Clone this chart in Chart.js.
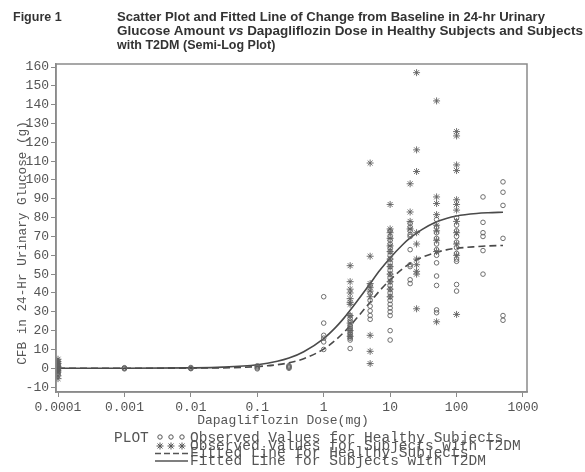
<!DOCTYPE html>
<html lang="en">
<head>
    <meta charset="UTF-8">
    <title>Figure 1 - Dapagliflozin dose response</title>
    <style>
        body { margin: 0; background: #fff; }
        .chart-container { position: relative; width: 585px; height: 472px; }
    </style>
</head>
<body>
    <div class="chart-container">
        <canvas id="doseChart"></canvas>
    </div>

    <script src="https://cdn.jsdelivr.net/npm/chart.js"></script>
    <script>
        // doses (mg); placebo is plotted at 0.0001
        const healthyDoses = [0.0001, 0.001, 0.01, 0.1, 0.3, 1, 2.5, 5, 10, 20, 50, 100, 250, 500];
        const healthyValues = [
            [-3.5, -2.5, -1.5, -1, -0.5, 0, 0, 0.5, 1, 1.5, 2, 3, 4],
            [0, 0.3, -0.3],
            [0, 0.4, -0.2],
            [0.2, 0.8, 1.3, -0.3],
            [0, 0.5, 0.9, 1.4],
            [38, 24, 17.5, 16, 14, 10],
            [28, 26.5, 25, 23, 22, 21, 20, 19, 18, 17, 16, 15, 10.5],
            [44, 40, 36, 33, 30.5, 28, 26],
            [73, 70, 68, 66, 64, 62, 60, 58, 56, 54, 52, 50, 48, 46, 44, 42, 40, 38, 36, 34, 32, 30, 28, 20, 15],
            [77, 75, 73, 71, 70, 63, 55, 54, 47, 45],
            [79, 75, 72, 69, 66, 63, 60, 56, 49, 44, 31, 29.5],
            [80, 76, 73, 70, 67, 64, 61, 58, 56.8, 44.5, 41],
            [91, 77.5, 72, 70, 62.5, 50],
            [99, 93.5, 86.5, 69, 28, 25.5]
        ];
        const t2dmDoses = [0.0001, 2.5, 5, 10, 20, 25, 50, 100];
        const t2dmValues = [
            [-5.5, -4, -2, -1, 0, 1, 2.5, 3.5, 4.8],
            [54.5, 46, 42, 40, 37, 35, 34, 28, 24, 20, 17],
            [109, 59.5, 45, 43, 41, 38, 17.5, 9, 2.5],
            [87, 74, 72, 69, 65, 62, 58, 54, 50, 46, 42, 38],
            [98, 83, 78, 74],
            [157, 116, 104.5, 72, 66, 58, 55, 51.5, 50, 31.6],
            [142, 91, 87.5, 81.6, 76, 73, 68, 62, 24.7],
            [125.7, 123.4, 108, 105, 89.5, 87, 84, 78, 72, 66, 60, 28.6]
        ];

        // fitted lines
        const fitDoses = [0.0001, 0.001, 0.01, 0.03, 0.1, 0.2, 0.3, 0.5, 1, 1.5, 2, 2.5, 3.5, 5, 7, 10, 15, 20, 30, 50, 70, 100, 200, 300, 500];
        const healthyFit = [0, 0, 0.1, 0.2, 0.9, 1.9, 2.9, 5.1, 10.2, 14.9, 19, 22.6, 28.6, 35.1, 41.3, 47, 52.5, 55.7, 58.9, 61.6, 62.9, 63.7, 64.6, 65, 65.2];
        const t2dmFit = [0, 0, 0.2, 0.6, 1.9, 3.7, 5.4, 8.8, 15.8, 21.6, 26.5, 30.8, 37.6, 45, 52, 58.6, 65.2, 69.2, 73.6, 77.8, 79.6, 80.9, 82.2, 82.6, 82.9];

        const xTickValues = [0.0001, 0.001, 0.01, 0.1, 1, 10, 100, 1000];
        const xTickLabels = ['0.0001', '0.001', '0.01', '0.1', '1', '10', '100', '1000'];
        const yTickValues = [-10, 0, 10, 20, 30, 40, 50, 60, 70, 80, 90, 100, 110, 120, 130, 140, 150, 160];

        const titleLead = 'Figure 1';
        const titleLines = [
            ['Scatter Plot and Fitted Line of Change from Baseline in 24-hr Urinary'],
            ['Glucose Amount ', 'vs', ' Dapagliflozin Dose in Healthy Subjects and Subjects'],
            ['with T2DM (Semi-Log Plot)']
        ];
        const xTitle = 'Dapagliflozin Dose(mg)';
        const yTitle = 'CFB in 24-Hr Urinary Glucose (g)';
        const legendHead = 'PLOT';
        const legendItems = [
            'Observed Values for Healthy Subjects',
            'Observed Values for Subjects with T2DM',
            'Fitted Line for Healthy Subjects',
            'Fitted Line for Subjects with T2DM'
        ];

        function toPoints(doses, values) {
            const pts = [];
            doses.forEach((d, i) => values[i].forEach(v => pts.push({ x: d, y: v })));
            return pts;
        }
        function toLine(doses, values) {
            return doses.map((d, i) => ({ x: d, y: values[i] }));
        }

        const ink = '#555';
        const mono = '"Liberation Mono", "DejaVu Sans Mono", monospace';
        const sans = '"Liberation Sans", Arial, sans-serif';

        const textPlugin = {
            id: 'figureText',
            afterDraw: (chart) => {
                const ctx = chart.ctx;
                const a = chart.chartArea;
                ctx.save();

                // frame around plot
                ctx.strokeStyle = '#8a8a8a';
                ctx.lineWidth = 1.5;
                ctx.strokeRect(a.left, a.top, a.right - a.left, a.bottom - a.top);

                // title (long lines stretched to the width they have in the figure)
                ctx.fillStyle = '#333';
                ctx.textBaseline = 'alphabetic';
                ctx.textAlign = 'left';
                ctx.font = 'bold 12.5px ' + sans;
                ctx.fillText(titleLead, 13, 21);
                const baselines = [21, 34.5, 48.5];
                const lineEnds = [545, 583, null];
                titleLines.forEach((parts, i) => {
                    const fonts = parts.map(p => (p === 'vs' ? 'italic ' : '') + 'bold 12.5px ' + sans);
                    let w = 0;
                    parts.forEach((p, j) => { ctx.font = fonts[j]; w += ctx.measureText(p).width; });
                    ctx.save();
                    ctx.translate(117, baselines[i]);
                    if (lineEnds[i]) ctx.scale((lineEnds[i] - 117) / w, 1);
                    let x = 0;
                    parts.forEach((p, j) => {
                        ctx.font = fonts[j];
                        ctx.fillText(p, x, 0);
                        x += ctx.measureText(p).width;
                    });
                    ctx.restore();
                });

                // axis titles
                ctx.fillStyle = ink;
                ctx.font = '13px ' + mono;
                ctx.textAlign = 'center';
                ctx.textBaseline = 'middle';
                ctx.fillText(xTitle, 283, 421);
                ctx.save();
                ctx.translate(23, 243);
                ctx.rotate(-Math.PI / 2);
                ctx.font = '12.7px ' + mono;
                ctx.fillText(yTitle, 0, 0);
                ctx.restore();

                // legend
                ctx.font = '14.5px ' + mono;
                ctx.textAlign = 'left';
                const rows = [438, 446, 453.5, 461];
                ctx.fillText(legendHead, 114, rows[0]);
                legendItems.forEach((t, i) => ctx.fillText(t, 190, rows[i]));
                ctx.strokeStyle = ink;
                ctx.lineWidth = 1;
                [160, 171, 182].forEach(cx => {
                    ctx.beginPath();
                    ctx.arc(cx, rows[0] - 1, 2.2, 0, Math.PI * 2);
                    ctx.stroke();
                    Chart.helpers.drawPoint(ctx, { pointStyle: 'star', radius: 3.5, borderWidth: 1 }, cx, rows[1]);
                });
                ctx.lineWidth = 1.4;
                ctx.setLineDash([6, 3]);
                ctx.beginPath();
                ctx.moveTo(155, rows[2]);
                ctx.lineTo(188, rows[2]);
                ctx.stroke();
                ctx.setLineDash([]);
                ctx.beginPath();
                ctx.moveTo(155, rows[3]);
                ctx.lineTo(188, rows[3]);
                ctx.stroke();

                ctx.restore();
            }
        };

        const ctx = document.getElementById('doseChart').getContext('2d');
        new Chart(ctx, {
            type: 'scatter',
            data: {
                datasets: [
                    {
                        label: legendItems[0],
                        data: toPoints(healthyDoses, healthyValues),
                        pointStyle: 'circle',
                        pointRadius: 2.3,
                        borderWidth: 0.9,
                        borderColor: '#606060',
                        backgroundColor: 'rgba(0,0,0,0)'
                    },
                    {
                        label: legendItems[1],
                        data: toPoints(t2dmDoses, t2dmValues),
                        pointStyle: 'star',
                        pointRadius: 3.5,
                        borderWidth: 0.9,
                        borderColor: '#606060',
                        backgroundColor: 'rgba(0,0,0,0)'
                    },
                    {
                        label: legendItems[2],
                        data: toLine(fitDoses, healthyFit),
                        showLine: true,
                        pointRadius: 0,
                        borderColor: '#4a4a4a',
                        borderWidth: 1.6,
                        borderDash: [7, 4],
                        cubicInterpolationMode: 'monotone'
                    },
                    {
                        label: legendItems[3],
                        data: toLine(fitDoses, t2dmFit),
                        showLine: true,
                        pointRadius: 0,
                        borderColor: '#4a4a4a',
                        borderWidth: 1.6,
                        cubicInterpolationMode: 'monotone'
                    }
                ]
            },
            options: {
                responsive: true,
                maintainAspectRatio: false,
                animation: false,
                layout: { padding: { top: 64, right: 58, left: 0, bottom: 0 } },
                plugins: {
                    legend: { display: false },
                    tooltip: { enabled: false },
                    title: { display: false }
                },
                scales: {
                    x: {
                        type: 'logarithmic',
                        min: 0.0000933,
                        max: 1149,
                        afterBuildTicks: (s) => { s.ticks = xTickValues.map(v => ({ value: v })); },
                        afterFit: (s) => { s.height = 80; },
                        grid: { display: true, drawOnChartArea: false, drawTicks: true, tickLength: 5, color: '#8a8a8a' },
                        border: { display: true, color: '#8a8a8a', width: 1.5 },
                        ticks: {
                            autoSkip: false,
                            maxRotation: 0,
                            padding: 3,
                            color: ink,
                            font: { family: mono, size: 13 },
                            callback: (v, i) => xTickLabels[i]
                        }
                    },
                    y: {
                        type: 'linear',
                        min: -12.6,
                        max: 161.6,
                        afterBuildTicks: (s) => { s.ticks = yTickValues.map(v => ({ value: v })); },
                        afterFit: (s) => { s.width = 56; },
                        grid: { display: true, drawOnChartArea: false, drawTicks: true, tickLength: 5, color: '#8a8a8a' },
                        border: { display: true, color: '#8a8a8a', width: 1.5 },
                        ticks: {
                            autoSkip: false,
                            padding: 2,
                            color: ink,
                            font: { family: mono, size: 13 },
                            callback: (v) => String(v)
                        }
                    }
                }
            },
            plugins: [textPlugin]
        });
    </script>
</body>
</html>
